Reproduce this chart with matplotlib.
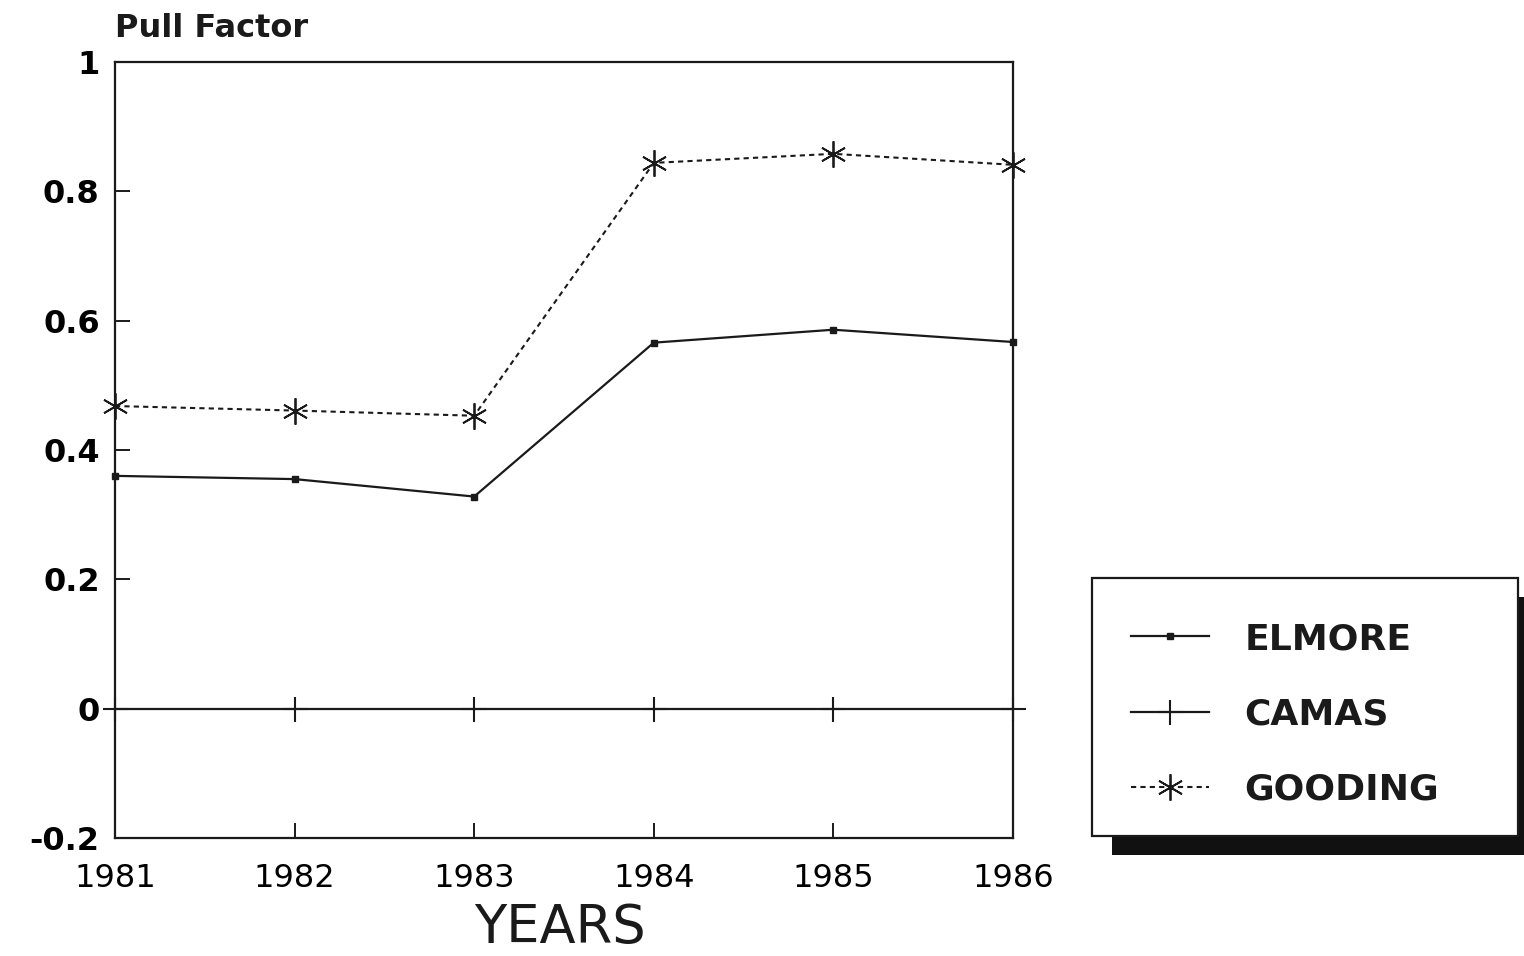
import matplotlib
matplotlib.use('Agg')
import matplotlib.pyplot as plt
from matplotlib.patches import Rectangle

plt.rcParams['font.family'] = ['DejaVu Sans']

years = [1981, 1982, 1983, 1984, 1985, 1986]
elmore = [0.360, 0.355, 0.328, 0.566, 0.586, 0.567]
camas = [0.0, 0.0, 0.0, 0.0, 0.0, 0.0]
gooding = [0.468, 0.461, 0.453, 0.844, 0.858, 0.841]
yticks = [-0.2, 0, 0.2, 0.4, 0.6, 0.8, 1]
ytick_labels = ['-0.2', '0', '0.2', '0.4', '0.6', '0.8', '1']

W, H = 1524, 956
ink = '#1a1a1a'
fig = plt.figure(figsize=(W / 100, H / 100), dpi=100)
ax = fig.add_axes([115 / W, 1 - 838 / H, 898 / W, 776 / H])

ax.plot(years, elmore, color=ink, lw=1.6, marker='s', ms=5,
        clip_on=False, label='ELMORE', zorder=3)
ax.plot(years, camas, color=ink, lw=1.6, marker='+', ms=18, mew=1.5,
        clip_on=False, label='CAMAS', zorder=3)
ax.plot(years, gooding, color=ink, lw=1.5, dashes=(2.5, 2.0),
        marker=(6, 2, 0), ms=19, mew=1.3, clip_on=False,
        label='GOODING', zorder=3)

ax.set_xlim(1981, 1986)
ax.set_ylim(-0.2, 1)
ax.set_xticks(years)
ax.set_xticklabels([str(y) for y in years], fontsize=23)
ax.set_yticks(yticks)
ax.set_yticklabels(ytick_labels, fontsize=23, fontweight='bold')
ax.tick_params(direction='in', length=11, width=1.4, color=ink)
ax.tick_params(axis='x', pad=18)
ax.tick_params(axis='y', pad=11)
ax.tick_params(top=False, right=False)
for s in ax.spines.values():
    s.set_linewidth(1.6)
    s.set_color(ink)

fig.text(115 / W, 1 - 37 / H, 'Pull Factor', fontsize=23, fontweight='bold',
         ha='left', va='baseline', color=ink)
fig.text(560 / W, 1 - 954 / H, 'YEARS', fontsize=38, ha='center',
         va='bottom', color=ink)

# legend box with solid shadow
fig.patches.append(Rectangle((1112 / W, 1 - 855 / H), 426 / W, 258 / H,
                             transform=fig.transFigure, facecolor='#111111',
                             edgecolor='none', zorder=1))
fig.patches.append(Rectangle((1092 / W, 1 - 836 / H), 426 / W, 258 / H,
                             transform=fig.transFigure, facecolor='white',
                             edgecolor=ink, lw=1.6, zorder=2))
handles, labels = ax.get_legend_handles_labels()
leg = fig.legend(handles, labels, loc='upper left',
                 bbox_to_anchor=(1131 / W, 1 - 622 / H), frameon=False,
                 borderpad=0, borderaxespad=0, handlelength=2.15,
                 handletextpad=1.0, labelspacing=1.14, numpoints=1,
                 prop={'size': 26, 'weight': 'bold'})
leg.set_zorder(3)
for t in leg.get_texts():
    t.set_color(ink)

fig.savefig('out.png', dpi=100)
